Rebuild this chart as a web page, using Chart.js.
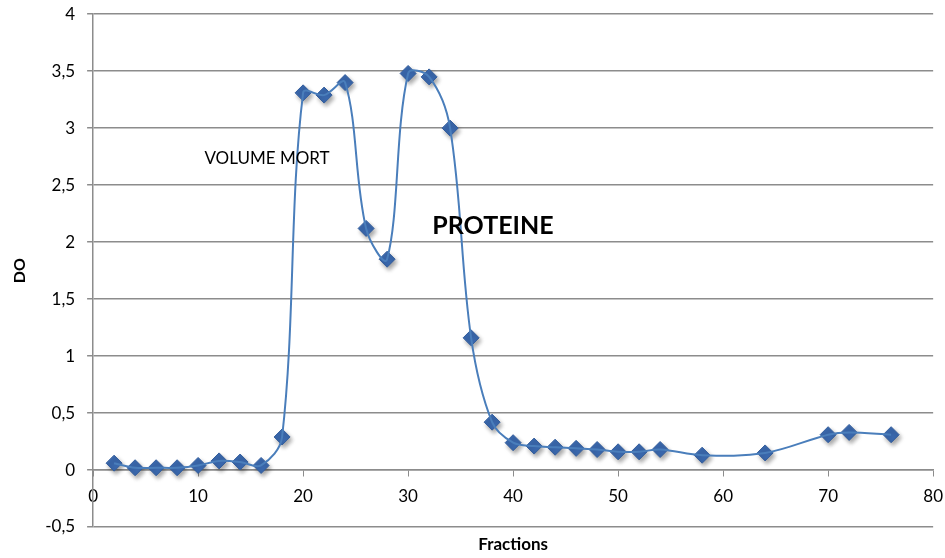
<!DOCTYPE html>
<html>
<head>
<meta charset="utf-8">
<script src="https://cdn.jsdelivr.net/npm/chart.js@4/dist/chart.umd.min.js"></script>
<style>
  html, body { margin: 0; padding: 0; background: #fff; }
  #frame { width: 945px; height: 558px; position: relative; overflow: hidden; }
  /* slightly larger than the window so the plot area reaches the top/right edges like the original */
  #wrap { width: 953px; height: 566px; position: absolute; left: 0; top: -8px; }
</style>
</head>
<body>
<div id="frame"><div id="wrap"><canvas id="chart"></canvas></div></div>
<script>
// fractions collected and their optical density (DO)
var fractions = [2, 4, 6, 8, 10, 12, 14, 16, 18, 20, 22, 24, 26, 28, 30, 32, 34, 36, 38,
                 40, 42, 44, 46, 48, 50, 52, 54, 58, 64, 70, 72, 76];
var doValues = [0.06, 0.02, 0.02, 0.02, 0.04, 0.08, 0.07, 0.04, 0.29, 3.31, 3.29, 3.40, 2.12, 1.85, 3.48, 3.45, 3.00, 1.16, 0.42,
                0.24, 0.21, 0.20, 0.19, 0.18, 0.16, 0.16, 0.18, 0.13, 0.15, 0.31, 0.33, 0.31];

var xTitle = 'Fractions';
var yTitle = 'DO';
var labelDeadVolume = 'VOLUME MORT';
var labelProtein = 'PROTEINE';

var FONT = 'Lato, "Open Sans", sans-serif';
var gridColor = '#8c8c8c';

function commaNumber(v) {
    return String(Math.round(v * 10) / 10).replace('.', ',');
}

var points = fractions.map(function (f, i) { return { x: f, y: doValues[i] }; });

// text that is not bound to an axis: the notes on the curve and the x title
var notesPlugin = {
    id: 'notes',
    beforeDatasetDraw: function (chart, args) {
        // only the markers get the soft shadow, like in the spreadsheet
        if (args.index === 1) {
            chart.ctx.save();
            chart.ctx.shadowColor = 'rgba(0,0,0,0.35)';
            chart.ctx.shadowBlur = 4;
            chart.ctx.shadowOffsetX = 2;
            chart.ctx.shadowOffsetY = 3;
        }
    },
    afterDatasetDraw: function (chart, args) {
        if (args.index === 1) chart.ctx.restore();
    },
    afterDraw: function (chart) {
        var ctx = chart.ctx;
        var xs = chart.scales.x;
        var ys = chart.scales.y;
        ctx.save();
        ctx.fillStyle = '#000';
        ctx.textBaseline = 'middle';
        ctx.textAlign = 'left';
        ctx.font = '17px ' + FONT;
        ctx.fillText(labelDeadVolume, xs.getPixelForValue(10.6), ys.getPixelForValue(2.73));
        ctx.font = 'bold 25px ' + FONT;
        ctx.fillText(labelProtein, xs.getPixelForValue(32.3), ys.getPixelForValue(2.14));
        ctx.textAlign = 'center';
        ctx.font = 'bold 17px ' + FONT;
        ctx.fillText(xTitle, (chart.chartArea.left + chart.chartArea.right) / 2, chart.chartArea.bottom + 18);
        ctx.restore();
    }
};

var ctx = document.getElementById('chart');
var chart = new Chart(ctx, {
    type: 'line',
    data: {
        datasets: [{
            label: yTitle,
            data: points,
            borderColor: '#4a7ebb',
            borderWidth: 2,
            tension: 0.35,
            pointRadius: 0,
            fill: false
        }, {
            label: yTitle,
            data: points,
            showLine: false,
            pointStyle: 'rectRot',
            pointRadius: 8,
            pointHoverRadius: 8,
            pointBackgroundColor: '#3a68ad',
            pointBorderColor: '#335d9c',
            pointBorderWidth: 1
        }]
    },
    options: {
        responsive: true,
        maintainAspectRatio: false,
        animation: false,
        layout: { padding: { top: 0, right: 3, bottom: 31, left: 0 } },
        plugins: {
            legend: { display: false },
            tooltip: { enabled: false }
        },
        scales: {
            x: {
                type: 'linear',
                position: { y: 0 },
                min: 0,
                max: 80,
                ticks: {
                    stepSize: 10,
                    color: '#000',
                    font: { family: FONT, size: 17 },
                    padding: 10
                },
                grid: {
                    drawOnChartArea: false,
                    drawTicks: true,
                    tickLength: 6,
                    color: gridColor
                },
                border: { color: gridColor, width: 1.5 }
            },
            y: {
                min: -0.5,
                max: 4,
                ticks: {
                    stepSize: 0.5,
                    color: '#000',
                    font: { family: FONT, size: 17 },
                    padding: 12,
                    callback: function (v) { return commaNumber(v); }
                },
                grid: {
                    color: gridColor,
                    lineWidth: 1.5,
                    tickLength: 6
                },
                border: { color: gridColor, width: 1.5 },
                title: {
                    display: true,
                    text: yTitle,
                    color: '#000',
                    font: { family: FONT, size: 16, weight: 'bold' },
                    padding: { top: 10, bottom: 4 }
                }
            }
        }
    },
    plugins: [notesPlugin]
});
</script>
</body>
</html>
